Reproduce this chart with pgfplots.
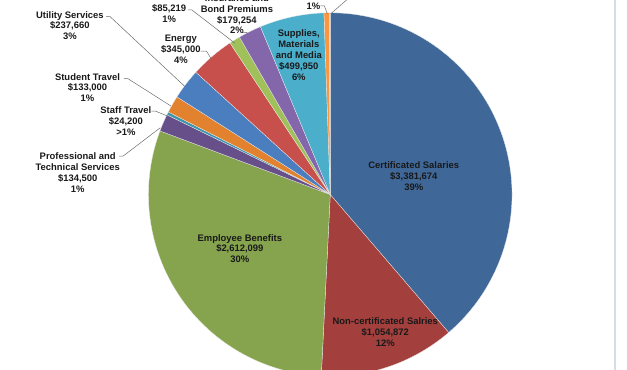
\documentclass[border=0pt]{standalone}
\usepackage{pgfplots}
\pgfplotsset{compat=1.18}
\usepackage{fontspec}
\setmainfont{Liberation Sans}
\definecolor{sc1}{HTML}{3F6797}
\definecolor{sc2}{HTML}{A3403D}
\definecolor{sc3}{HTML}{86A34D}
\definecolor{sc4}{HTML}{674F8A}
\definecolor{sc5}{HTML}{3B95AC}
\definecolor{sc6}{HTML}{E2822F}
\definecolor{sc7}{HTML}{4A7EBF}
\definecolor{sc8}{HTML}{C8504C}
\definecolor{sc9}{HTML}{A0C05A}
\definecolor{sc10}{HTML}{8466AB}
\definecolor{sc11}{HTML}{4BAFCB}
\definecolor{sc12}{HTML}{F9963F}
\definecolor{sc13}{HTML}{C8C8C8}
\definecolor{leader}{HTML}{6A6A6A}
% values in thousands of dollars, clockwise from 12 o'clock
\def\values{3381.674,1054.872,2612.099,134.500,24.200,133.000,237.660,345.000,85.219,179.254,499.950,40.000,8.000}
\begin{document}
\xdef\total{0}
\foreach \v in \values {\pgfmathsetmacro\t{\total+\v}\xdef\total{\t}}
\xdef\cum{90}
\foreach \v [count=\i] in \values {%
  \pgfmathsetmacro\e{\cum-\v/\total*360}%
  \expandafter\xdef\csname aS\i\endcsname{\cum}%
  \expandafter\xdef\csname aE\i\endcsname{\e}%
  \xdef\cum{\e}}
\begin{tikzpicture}[lab/.style={font=\fontsize{9.6}{11}\selectfont\bfseries, align=center, inner sep=0pt, text=black!90}]
\begin{axis}[scale only axis, width=627pt, height=376pt,
  xmin=0, xmax=627, ymin=0, ymax=376, axis lines=none, clip=true]
\pgfplotsinvokeforeach{1,...,13}{%
  \edef\doslice{\noexpand\addplot[fill=sc#1, draw=white!85!gray, line width=0.3pt,
    domain=\csname aE#1\endcsname:\csname aS#1\endcsname, samples=80, variable=\noexpand\t]
    ({325+185*cos(\noexpand\t)},{178+185*sin(\noexpand\t)}) -- (axis cs:325,178) -- cycle;}%
  \doslice
}
% leader lines
\addplot[leader, line width=0.5pt] coordinates {(193,324) (199,324) (204,316)};
\addplot[leader, line width=0.5pt] coordinates {(97,359) (101,359) (177,288)};
\addplot[leader, line width=0.5pt] coordinates {(115,296) (119,296) (163,268)};
\addplot[leader, line width=0.5pt] coordinates {(143,263) (147,263) (159,258)};
\addplot[leader, line width=0.5pt] coordinates {(110,217) (114,217) (152,246)};
\addplot[leader, line width=0.5pt] coordinates {(180,366) (184,366) (228,332)};
\addplot[leader, line width=0.5pt] coordinates {(236,343) (240,343) (241,341)};
\addplot[leader, line width=0.5pt] coordinates {(315,370) (319,370) (322,362)};
\addplot[leader, line width=0.5pt] coordinates {(325.5,362) (345,379)};
% frame line
\addplot[color={rgb,255:red,213;green,220;blue,230}, line width=1.6pt] coordinates {(615,-5) (615,381)};
% labels
\node[lab] at (axis cs:410,197) {Certificated Salaries\\\$3,381,674\\39\%};
\node[lab] at (axis cs:381,38) {Non-certificated Salries\\\$1,054,872\\12\%};
\node[lab] at (axis cs:233,123) {Employee Benefits\\\$2,612,099\\30\%};
\node[lab] at (axis cs:293,320) {Supplies,\\Materials\\and Media\\\$499,950\\6\%};
\node[lab] at (axis cs:173,326) {Energy\\\$345,000\\4\%};
\node[lab] at (axis cs:60,350) {Utility Services\\\$237,660\\3\%};
\node[lab] at (axis cs:78,287) {Student Travel\\\$133,000\\1\%};
\node[lab] at (axis cs:117,253) {Staff Travel\\\$24,200\\>1\%};
\node[lab] at (axis cs:68,200.5) {Professional and\\Technical Services\\\$134,500\\1\%};
\node[lab] at (axis cs:161,362.5) {\$85,219\\1\%};
\node[lab] at (axis cs:230,361.5) {Insurance and\\Bond Premiums\\\$179,254\\2\%};
\node[lab] at (axis cs:308,370) {1\%};
\end{axis}
\pgfresetboundingbox
\path (current axis.south west) rectangle (current axis.north east);
\end{tikzpicture}
\end{document}
